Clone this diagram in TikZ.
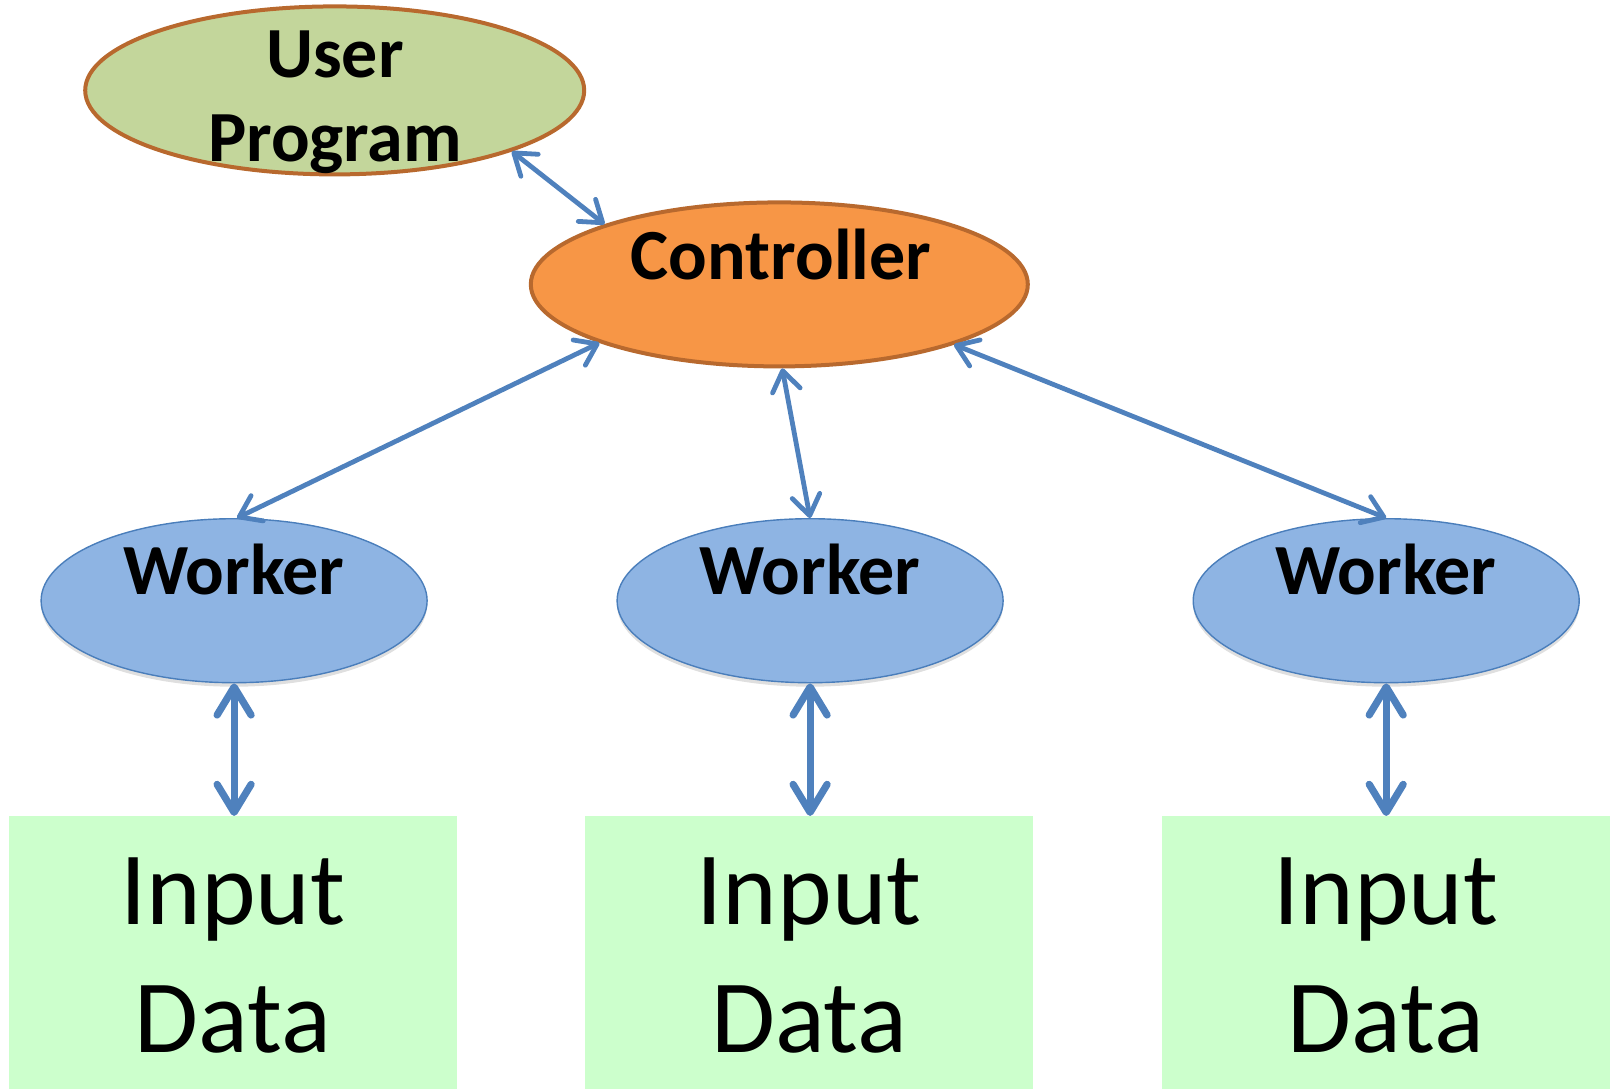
\documentclass[tikz,border=0pt]{standalone}
\usepackage{fontspec}
\setmainfont{Carlito}
\usetikzlibrary{arrows.meta,shapes.geometric,shadows}
\definecolor{upfill}{HTML}{C3D69B}
\definecolor{ctrlfill}{HTML}{F79646}
\definecolor{brownline}{HTML}{B8692E}
\definecolor{wfill}{HTML}{8EB4E3}
\definecolor{wline}{HTML}{4A7EBB}
\definecolor{arrowblue}{HTML}{4F81BD}
\definecolor{boxfill}{HTML}{CCFFCC}
\begin{document}
\begin{tikzpicture}[x=0.5pt,y=-0.5pt,
  bigell/.style={ellipse, draw=brownline, line width=2pt, inner sep=0pt},
  workerell/.style={ellipse, draw=wline, line width=0.7pt, fill=wfill, inner sep=0pt,
     minimum width=193pt, minimum height=82pt,
     drop shadow={shadow xshift=0pt, shadow yshift=-2pt, opacity=0.25}},
  inbox/.style={rectangle, fill=boxfill, inner sep=0pt, minimum width=223.85pt, minimum height=136.35pt},
  boldlbl/.style={anchor=base, inner sep=0pt, font=\fontsize{36}{40}\selectfont\bfseries},
  inlbl/.style={anchor=base, inner sep=0pt, font=\fontsize{52}{60}\selectfont},
  thinarr/.style={draw=arrowblue, line width=2.4pt,
     {Straight Barb[length=10pt,width=14pt,line cap=round,line join=round]}-{Straight Barb[length=10pt,width=14pt,line cap=round,line join=round]}},
  thickarr/.style={draw=arrowblue, line width=3.6pt,
     {Straight Barb[length=14pt,width=17pt,line cap=round,line join=round]}-{Straight Barb[length=14pt,width=17pt,line cap=round,line join=round]}}
]
\useasboundingbox (0,0) rectangle (1610,1089);

% ellipses
\node[bigell, fill=upfill, minimum width=249.5pt, minimum height=84pt] (up) at (334.7,90.4) {};
\node[bigell, fill=ctrlfill, minimum width=248.5pt, minimum height=82pt] (ctrl) at (779.3,284.4) {};
\node[workerell] (w1) at (234.1,600.7) {};
\node[workerell] (w2) at (810.1,600.7) {};
\node[workerell] (w3) at (1386.2,600.7) {};

% boxes
\node[inbox] (in1) at (233,952.7) {};
\node[inbox] (in2) at (809.2,952.7) {};
\node[inbox] (in3) at (1385.7,952.7) {};

% labels
\node[boldlbl] (upl1) at (335,77) {User};
\node[boldlbl] (upl2) at (335,161) {Program};
\node[boldlbl] (ctrll) at (781,279) {Controller};
\node[boldlbl] (w1l) at (234,594) {Worker};
\node[boldlbl] (w2l) at (810,594) {Worker};
\node[boldlbl] (w3l) at (1386,594) {Worker};
\foreach \n/\x in {1/233,2/809.2,3/1385.7}{
  \node[inlbl] (in\n a) at (\x,924) {Input};
  \node[inlbl] (in\n b) at (\x,1052.5) {Data};
}

% connectors
\draw[thinarr] (up.341) -- (ctrl.161);
\draw[thinarr] (ctrl.198.7) -- (w1.88);
\draw[thinarr] (ctrl.-88) -- (w2.north);
\draw[thinarr] (ctrl.341.1) -- (w3.north);
\draw[thickarr] (w1.south) -- (w1.south |- in1.north);
\draw[thickarr] (w2.south) -- (w2.south |- in2.north);
\draw[thickarr] (w3.south) -- (w3.south |- in3.north);
\end{tikzpicture}
\end{document}
